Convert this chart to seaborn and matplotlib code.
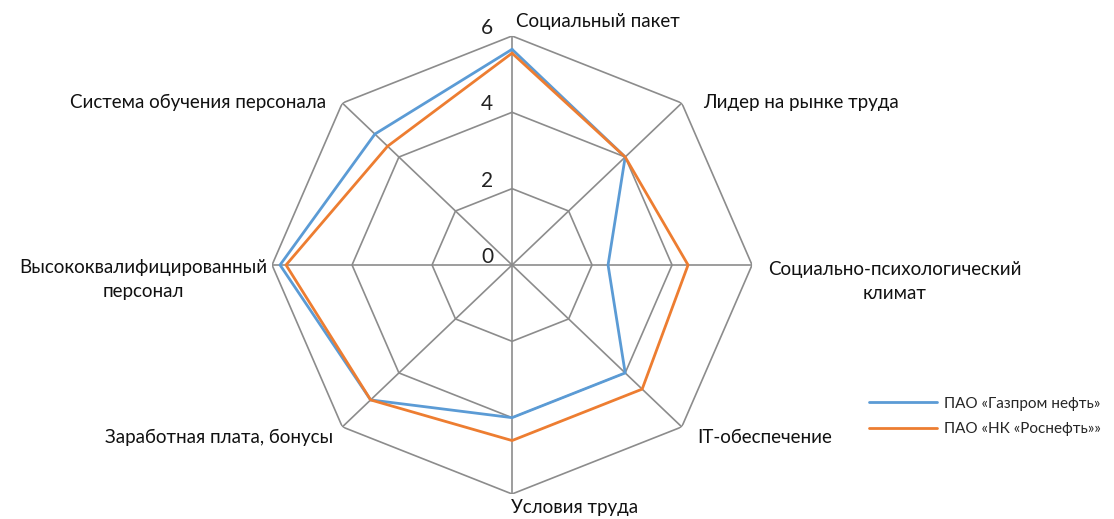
import numpy as np
import pandas as pd
import matplotlib
matplotlib.use("Agg")
import matplotlib.pyplot as plt
import seaborn as sns

categories = ["Социальный пакет", "Лидер на рынке труда", "Социально-психологический\nклимат",
              "IT-обеспечение", "Условия труда", "Заработная плата, бонусы",
              "Высококвалифицированный\nперсонал", "Система обучения персонала"]
gazprom = [5.65, 4.0, 2.4, 4.0, 4.0, 5.0, 5.8, 4.85]
rosneft = [5.55, 4.0, 4.4, 4.6, 4.6, 5.0, 5.65, 4.4]
series_names = ["ПАО «Газпром нефть»", "ПАО «НК «Роснефть»»"]
rticks = [0, 2, 4, 6]

sns.set_theme(style="white")
plt.rcParams['font.family'] = ['Lato', 'DejaVu Sans']

n = len(categories)
angles = [i * 2 * np.pi / n for i in range(n)]

rows = []
for name, vals in zip(series_names, [gazprom, rosneft]):
    for a, v in zip(angles + [angles[0]], vals + [vals[0]]):
        rows.append({"theta": a, "r": v, "series": name})
df = pd.DataFrame(rows)

fig = plt.figure(figsize=(11.14, 5.19), dpi=100)
ax = fig.add_axes([0.2442, 0.0482, 0.4309, 0.8825], projection="polar")
ax.set_aspect('auto')
ax.set_theta_zero_location("N")
ax.set_theta_direction(-1)
ax.set_ylim(0, 6)
ax.grid(False)
ax.spines["polar"].set_visible(False)
ax.set_xticks([])
ax.set_yticks([])
ax.patch.set_alpha(0)

grid_color = "#8c8c8c"
for rt in rticks[1:]:
    ax.plot(angles + [angles[0]], [rt] * (n + 1), color=grid_color, lw=1.2, zorder=1)
for a in angles:
    ax.plot([a, a], [0, rticks[-1]], color=grid_color, lw=1.2, zorder=1)

palette = {series_names[0]: "#5B9BD5", series_names[1]: "#ED7D31"}
sns.lineplot(data=df, x="theta", y="r", hue="series", palette=palette, sort=False,
             estimator=None, lw=2, ax=ax, zorder=3)
handles, labels = ax.get_legend_handles_labels()
ax.get_legend().remove()
ax.set_xlabel("")
ax.set_ylabel("")

for rt in rticks:
    ax.annotate(str(rt), xy=(0, rt), xytext=(-25, 8), textcoords="offset pixels",
                ha="center", va="center", fontsize=15, color="#222222")

label_style = [
    ((4, 14), "left", "center"),
    ((21, 1), "left", "center"),
    ((143, -17), "center", "center"),
    ((15, -11), "left", "center"),
    ((63, -14), "center", "center"),
    ((-9, -11), "right", "center"),
    ((-253, -15), "left", "center"),
    ((-16, 1), "right", "center"),
]
for a, lab, (off, ha, va) in zip(angles, categories, label_style):
    ax.annotate(lab, xy=(a, rticks[-1]), xytext=off, textcoords="offset pixels",
                ha=ha, va=va, fontsize=13.5, color="#111111", linespacing=1.5,
                multialignment="center" if ha == "center" or "\n" in lab else ha)

fig.legend(handles, labels, loc="center left", bbox_to_anchor=(0.768, 0.198), frameon=False,
           fontsize=11, handlelength=4.4, labelspacing=0.75, handletextpad=0.5)

fig.savefig("out.png", dpi=100)
